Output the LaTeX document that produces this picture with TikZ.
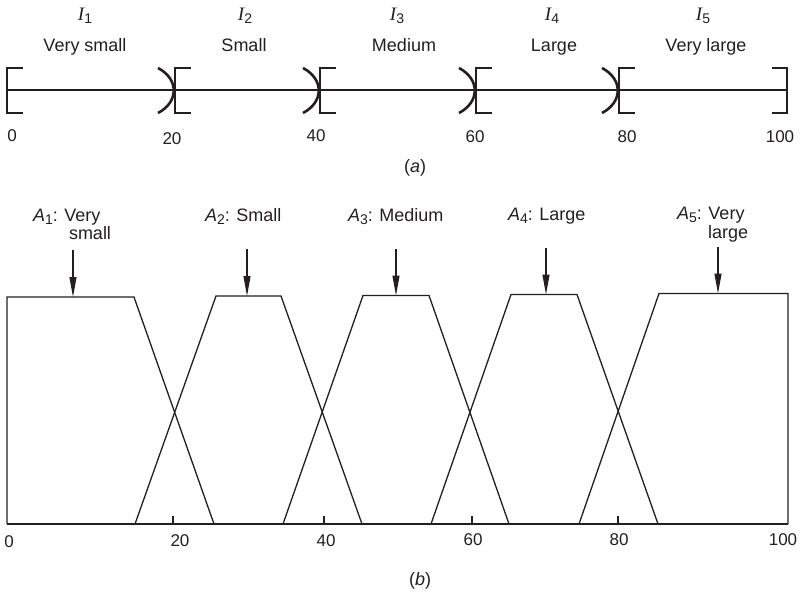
\documentclass[tikz,border=0pt]{standalone}
\usepackage{fontspec}
\setmainfont{Liberation Sans}
\newfontfamily\serifface{Liberation Serif}
\usetikzlibrary{arrows.meta}
\definecolor{ink}{HTML}{231F20}
\newcommand{\Ivar}[1]{{\fontsize{19}{20}\selectfont\serifface\itshape I}{\fontsize{14}{14}\selectfont\raisebox{-3pt}{#1}}}
\newcommand{\Avar}[1]{\textit{A}{\fontsize{14}{14}\selectfont\raisebox{-3pt}{#1}}}
\begin{document}
\begin{tikzpicture}[x=1pt,y=-1pt,
  lbl/.style={inner sep=0pt, outer sep=0pt, text=ink, font=\fontsize{18}{20}\selectfont, anchor=base},
  lblw/.style={lbl, anchor=base west},
  num/.style={inner sep=0pt, outer sep=0pt, text=ink, font=\fontsize{17}{19}\selectfont, anchor=base},
  thin/.style={draw=ink, line width=1.2pt},
  brk/.style={draw=ink, line width=1.4pt, line join=miter},
  par/.style={draw=ink, line width=2.6pt},
  mf/.style={draw=ink, line width=1.3pt, line join=miter},
  pointer/.style={draw=ink, line width=1.2pt, -{Triangle[length=20pt,width=7pt]}}
]
\useasboundingbox (0,0) rectangle (800,594);

% ---------------- (a) ----------------
\draw[thin] (7,90) -- (787,90);
\draw[brk] (23,68) -- (7,68) -- (7,113) -- (23,113);
\foreach \v/\p in {175/158, 320/303, 476/459, 619/602}{
  \draw[brk] (\v+16,68) -- (\v,68) -- (\v,113) -- (\v+16,113);
  \draw[par] (\p,68) .. controls (\p+21,79) and (\p+21,102) .. (\p,113);
}
\draw[brk] (772,68) -- (787,68) -- (787,113) -- (772,113);

\node[lbl] (i1) at (85,21) {\Ivar{1}};
\node[lbl] (i2) at (245,21) {\Ivar{2}};
\node[lbl] (i3) at (397,21) {\Ivar{3}};
\node[lbl] (i4) at (552,21) {\Ivar{4}};
\node[lbl] (i5) at (703,21) {\Ivar{5}};

\node[lbl] (n1) at (85,52) {Very small};
\node[lbl] (n2) at (244,52) {Small};
\node[lbl] (n3) at (404,52) {Medium};
\node[lbl] (n4) at (554,52) {Large};
\node[lbl] (n5) at (706,52) {Very large};

\node[num] (ta0) at (12,141) {0};
\node[num] (ta20) at (172,144) {20};
\node[num] (ta40) at (316,141) {40};
\node[num] (ta60) at (475,142) {60};
\node[num] (ta80) at (627,142) {80};
\node[num] (ta100) at (780,142) {100};

\node[lbl] (capa) at (415,172) {(\textit{a})};

% ---------------- (b) ----------------
\draw[mf] (7,524) -- (788,524);
\foreach \t in {173,324,472,618}{ \draw[mf] (\t,524) -- (\t,516); }

\draw[mf] (7,524) -- (7,297) -- (134,297) -- (214,524);
\draw[mf] (135,524) -- (216,296) -- (281,296) -- (362,524);
\draw[mf] (283,524) -- (363,295.5) -- (429,295.5) -- (509,524);
\draw[mf] (431,524) -- (511,294.5) -- (577,294.5) -- (658,524);
\draw[mf] (579,524) -- (659,293.5) -- (788,293.5) -- (788,524);

\node[lblw] (a1) at (33,221) {\Avar{1}: Very};
\node[lblw] (a1b) at (69,239) {small};
\node[lblw] (a2) at (205,221) {\Avar{2}: Small};
\node[lblw] (a3) at (348,221) {\Avar{3}: Medium};
\node[lblw] (a4) at (508,220) {\Avar{4}: Large};
\node[lblw] (a5) at (677,219) {\Avar{5}: Very};
\node[lblw] (a5b) at (708,238) {large};

\coordinate (s1) at (73,250);   \coordinate (e1) at (73,297);
\coordinate (s2) at (247,249);  \coordinate (e2) at (247,296);
\coordinate (s3) at (396,249);  \coordinate (e3) at (396,295.5);
\coordinate (s4) at (546,248);  \coordinate (e4) at (546,294.5);
\coordinate (s5) at (718,247);  \coordinate (e5) at (718,293.5);
\foreach \k in {1,...,5}{ \draw[pointer] (s\k) -- (e\k); }

\node[num] (tb0) at (9,547) {0};
\node[num] (tb20) at (180,546) {20};
\node[num] (tb40) at (326,546) {40};
\node[num] (tb60) at (473,545) {60};
\node[num] (tb80) at (619,545) {80};
\node[num] (tb100) at (783,545) {100};

\node[lbl] (capb) at (420,585) {(\textit{b})};
\end{tikzpicture}
\end{document}
